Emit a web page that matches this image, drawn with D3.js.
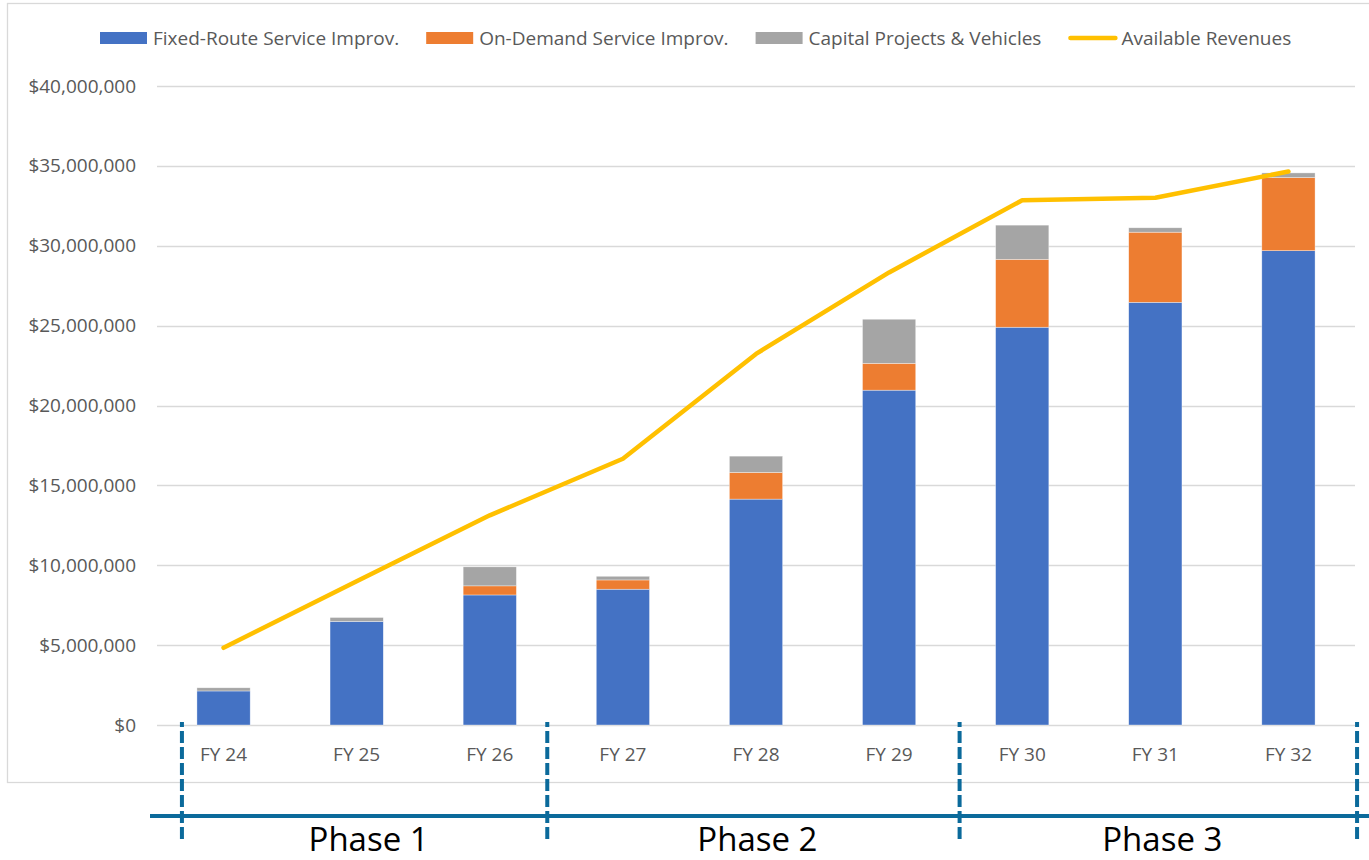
<!DOCTYPE html>
<html>
<head>
<meta charset="utf-8">
<script src="https://cdn.jsdelivr.net/npm/d3@7"></script>
<style>
  html, body { margin: 0; padding: 0; background: #fff; }
  svg { display: block; }
  text { font-family: "Open Sans", "Noto Sans", sans-serif; }
</style>
</head>
<body>
<svg id="chart" width="1369" height="860"></svg>
<script>
// ---- data ----
const categories = ["FY 24", "FY 25", "FY 26", "FY 27", "FY 28", "FY 29", "FY 30", "FY 31", "FY 32"];
const fixedRoute = [2130000, 6480000, 8140000, 8500000, 14140000, 20960000, 24900000, 26460000, 29690000];
const onDemand   = [0, 0, 570000, 580000, 1670000, 1680000, 4250000, 4390000, 4580000];
const capital    = [200000, 250000, 1190000, 230000, 1020000, 2760000, 2140000, 275000, 290000];
const revenues   = [4830000, 9000000, 13125000, 16670000, 23230000, 28330000, 32850000, 33000000, 34650000];
const yTicks = [0, 5000000, 10000000, 15000000, 20000000, 25000000, 30000000, 35000000, 40000000];
const seriesNames = ["Fixed-Route Service Improv.", "On-Demand Service Improv.", "Capital Projects & Vehicles"];
const lineName = "Available Revenues";
const phases = [
  { name: "Phase 1", from: "FY 24", to: "FY 26" },
  { name: "Phase 2", from: "FY 27", to: "FY 29" },
  { name: "Phase 3", from: "FY 30", to: "FY 32" }
];

// ---- styles/layout ----
const colors = ["#4472C4", "#ED7D31", "#A5A5A5"];
const lineColor = "#FFC000";
const phaseColor = "#0B6A9B";
const textColor = "#595959";
const gridColor = "#D9D9D9";

const svg = d3.select("#chart");
const plot = { left: 157, right: 1355, top: 86, bottom: 725 };

// chart border
svg.append("rect").attr("x", 7.5).attr("y", 3.5).attr("width", 1400).attr("height", 779)
  .attr("fill", "none").attr("stroke", gridColor).attr("stroke-width", 1.3);

const x = d3.scaleBand().domain(categories).range([plot.left, plot.right])
  .paddingInner(0.6).paddingOuter(0.3);
const y = d3.scaleLinear().domain([0, 40000000]).range([plot.bottom, plot.top]);

// gridlines
svg.append("g").selectAll("line").data(yTicks).join("line")
  .attr("x1", plot.left).attr("x2", plot.right)
  .attr("y1", d => Math.round(y(d)) + 0.5).attr("y2", d => Math.round(y(d)) + 0.5)
  .attr("stroke", gridColor).attr("stroke-width", 1.3);

// y axis labels
const yAxis = d3.axisLeft(y).tickValues(yTicks).tickSize(0).tickPadding(0)
  .tickFormat(d => "$" + d3.format(",")(d));
const yg = svg.append("g").attr("transform", `translate(${plot.left - 21},0)`).call(yAxis);
yg.select(".domain").remove();
yg.selectAll("text").attr("fill", textColor).style("font-size", "19px")
  .style("font-family", '"Open Sans", sans-serif');

// x axis labels
const xAxis = d3.axisBottom(x).tickSize(0).tickPadding(0);
const xg = svg.append("g").attr("transform", `translate(0,${plot.bottom + 22})`).call(xAxis);
xg.select(".domain").remove();
xg.selectAll("text").attr("fill", textColor).style("font-size", "19px")
  .style("font-family", '"Open Sans", sans-serif');

// stacked bars
const rows = categories.map((c, i) => ({ cat: c, s0: fixedRoute[i], s1: onDemand[i], s2: capital[i] }));
const stack = d3.stack().keys(["s0", "s1", "s2"])(rows);
svg.append("g").selectAll("g").data(stack).join("g")
  .attr("fill", (d, i) => colors[i])
  .selectAll("rect").data(d => d.filter(p => p[1] - p[0] > 0)).join("rect")
  .attr("x", d => x(d.data.cat))
  .attr("width", x.bandwidth())
  .attr("y", d => y(d[1]))
  .attr("height", d => y(d[0]) - y(d[1]))
  .attr("stroke", "#fff").attr("stroke-width", 0.6).attr("stroke-opacity", 0.6);

// revenue line
const line = d3.line().x((d, i) => x(categories[i]) + x.bandwidth() / 2).y(d => y(d));
svg.append("path").datum(revenues).attr("d", line)
  .attr("fill", "none").attr("stroke", lineColor).attr("stroke-width", 4.5)
  .attr("stroke-linejoin", "round").attr("stroke-linecap", "round");

// legend
const lg = svg.append("g").attr("transform", "translate(0,38)");
let lx = 100;
seriesNames.forEach((name, i) => {
  lg.append("rect").attr("x", lx).attr("y", -6).attr("width", 47).attr("height", 12).attr("fill", colors[i]);
  const t = lg.append("text").attr("x", lx + 53).attr("y", 0).attr("dy", "0.35em")
    .attr("fill", textColor).style("font-size", "19px").text(name);
  lx += 53 + t.node().getComputedTextLength() + 27;
});
lg.append("line").attr("x1", lx + 2).attr("x2", lx + 47).attr("y1", 0).attr("y2", 0)
  .attr("stroke", lineColor).attr("stroke-width", 4.5).attr("stroke-linecap", "round");
lg.append("text").attr("x", lx + 53).attr("y", 0).attr("dy", "0.35em")
  .attr("fill", textColor).style("font-size", "19px").text(lineName);

// phases annotation (hand-placed dividers, offset from bar edges)
const bLeft = c => x(c);
const bRight = c => x(c) + x.bandwidth();
const dividers = [
  bLeft(phases[0].from) - 15,
  bLeft(phases[1].from) - 49,
  bLeft(phases[2].from) - 36,
  bRight(phases[2].to) + 42
];
const pg = svg.append("g");
pg.append("line").attr("x1", 150).attr("x2", 1369).attr("y1", 816).attr("y2", 816)
  .attr("stroke", phaseColor).attr("stroke-width", 4);
pg.selectAll("line.div").data(dividers).join("line").attr("class", "div")
  .attr("x1", d => d).attr("x2", d => d).attr("y1", 722).attr("y2", 840)
  .attr("stroke", phaseColor).attr("stroke-width", 4)
  .attr("stroke-dasharray", "12,4").attr("stroke-dashoffset", 7);
pg.selectAll("text").data(phases).join("text")
  .attr("x", (d, i) => (dividers[i] + dividers[i + 1]) / 2 + 4)
  .attr("y", 851).attr("text-anchor", "middle")
  .attr("fill", "#000").style("font-size", "33px").text(d => d.name);
</script>
</body>
</html>
